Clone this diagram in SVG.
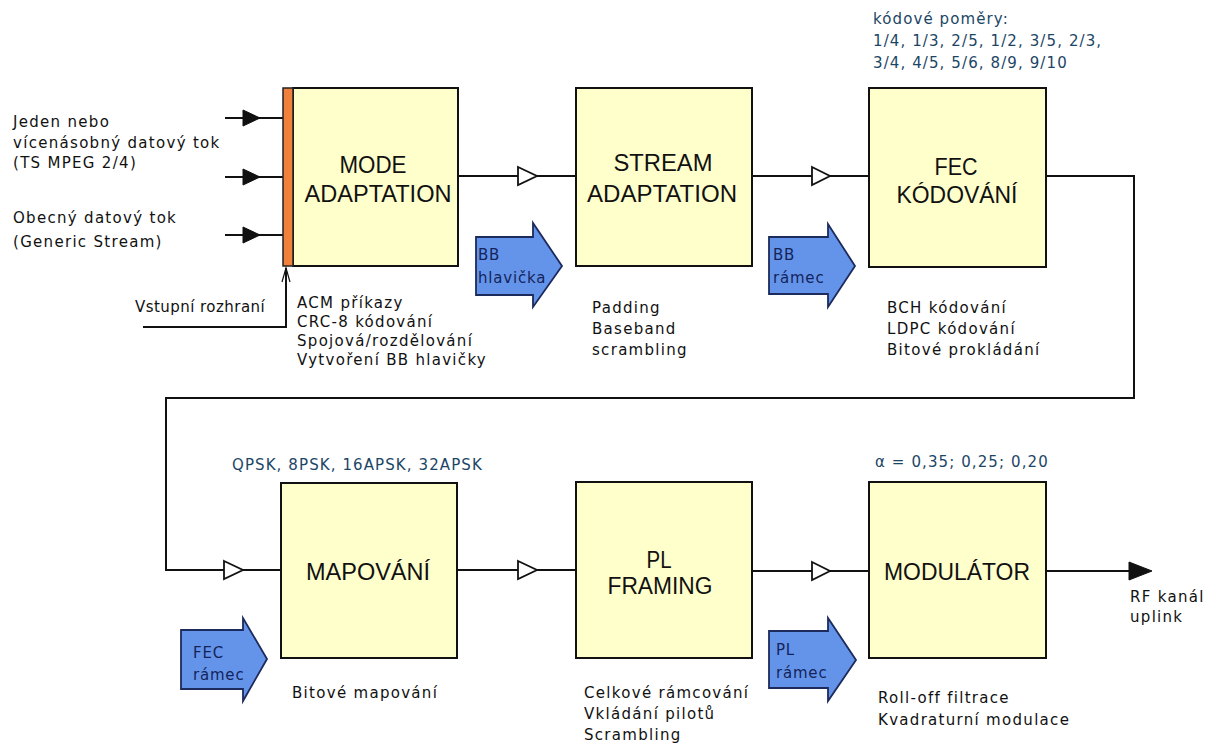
<svg xmlns="http://www.w3.org/2000/svg" width="1218" height="745" viewBox="0 0 1218 745">
<style>
.box{fill:#ffffcc;stroke:#111;stroke-width:2}
.bar{fill:#f0803c;stroke:#222;stroke-width:1.5}
.ttl{font-family:"Liberation Sans",Arial,sans-serif;font-size:23px;fill:#111;text-anchor:middle}
.t{font-family:"DejaVu Sans",Verdana,sans-serif;font-size:15px;fill:#111;letter-spacing:1.3px}
.tb{font-family:"DejaVu Sans",Verdana,sans-serif;font-size:15px;fill:#1c4666;letter-spacing:1.1px}
.ta{font-family:"DejaVu Sans",Verdana,sans-serif;font-size:15px;fill:#14245a;letter-spacing:0.8px}
.ln{fill:none;stroke:#111;stroke-width:2}
.open{fill:#fff;stroke:#111;stroke-width:1.8;stroke-linejoin:miter}
.fill{fill:#111;stroke:#111;stroke-width:1}
.blue{fill:#6494ea;stroke:#1c2a5c;stroke-width:1.8;stroke-linejoin:miter}
</style>
<rect width="1218" height="745" fill="#fff"/>

<g id="connectors">
  <line class="ln" x1="225" y1="118" x2="283" y2="118"/>
  <polygon class="fill" points="243,110 260,118 243,126"/>
  <line class="ln" x1="225" y1="177" x2="283" y2="177"/>
  <polygon class="fill" points="243,169 260,177 243,185"/>
  <line class="ln" x1="225" y1="235" x2="283" y2="235"/>
  <polygon class="fill" points="243,227 260,235 243,243"/>
  <polyline class="ln" points="143,327 286,327 286,268"/>
  <polyline fill="none" stroke="#111" stroke-width="1.2" points="282,282 286,268 290,282"/>

  <line class="ln" x1="458" y1="176" x2="576" y2="176"/>
  <polygon class="open" points="518,167 537,176 518,185"/>
  <line class="ln" x1="752" y1="176" x2="869" y2="176"/>
  <polygon class="open" points="812,167 830,176 812,185"/>
  <polyline class="ln" points="1046,176 1134,176 1134,398 166,398 166,570 281,570"/>
  <polygon class="open" points="224,561 243,570 224,579"/>
  <line class="ln" x1="457" y1="570" x2="576" y2="570"/>
  <polygon class="open" points="518,561 537,570 518,579"/>
  <line class="ln" x1="752" y1="571" x2="869" y2="571"/>
  <polygon class="open" points="812,562 830,571 812,580"/>
  <line class="ln" x1="1046" y1="571" x2="1130" y2="571"/>
  <polygon class="fill" points="1129,562 1152,571 1129,580"/>
</g>

<g id="inputs">
  <text class="t" x="13" y="127">Jeden nebo</text>
  <text class="t" x="13" y="148">vícenásobný datový tok</text>
  <text class="t" x="13" y="168">(TS MPEG 2/4)</text>
  <text class="t" x="13" y="223">Obecný datový tok</text>
  <text class="t" x="13" y="247">(Generic Stream)</text>
  <text class="t" x="135" y="312" textLength="131" lengthAdjust="spacing">Vstupní rozhraní</text>
</g>

<g id="mode-adaptation">
  <rect class="box" x="293" y="88" width="165" height="178"/>
  <rect class="bar" x="283" y="88" width="10" height="178"/>
  <text class="ttl" x="373" y="173" textLength="67" lengthAdjust="spacingAndGlyphs">MODE</text>
  <text class="ttl" x="378" y="202" textLength="147" lengthAdjust="spacingAndGlyphs">ADAPTATION</text>
  <text class="t" x="297" y="308">ACM příkazy</text>
  <text class="t" x="297" y="327">CRC-8 kódování</text>
  <text class="t" x="297" y="346">Spojová/rozdělování</text>
  <text class="t" x="297" y="365">Vytvoření BB hlavičky</text>
</g>

<g id="bb-hlavicka">
  <polygon class="blue" points="476,237 533,237 533,223 562,266 533,307 533,295 476,295"/>
  <text class="ta" x="478" y="260">BB</text>
  <text class="ta" x="478" y="283">hlavička</text>
</g>

<g id="stream-adaptation">
  <rect class="box" x="576" y="88" width="176" height="178"/>
  <text class="ttl" x="663" y="171" textLength="99" lengthAdjust="spacingAndGlyphs">STREAM</text>
  <text class="ttl" x="662" y="202" textLength="150" lengthAdjust="spacingAndGlyphs">ADAPTATION</text>
  <text class="t" x="592" y="313">Padding</text>
  <text class="t" x="592" y="334">Baseband</text>
  <text class="t" x="592" y="355">scrambling</text>
</g>

<g id="bb-ramec">
  <polygon class="blue" points="769,237 828,237 828,224 855,266 828,307 828,294 769,294"/>
  <text class="ta" x="773" y="260">BB</text>
  <text class="ta" x="773" y="283">rámec</text>
</g>

<g id="fec-kodovani">
  <text class="tb" x="873" y="24">kódové poměry:</text>
  <text class="tb" x="873" y="46">1/4, 1/3, 2/5, 1/2, 3/5, 2/3,</text>
  <text class="tb" x="873" y="68">3/4, 4/5, 5/6, 8/9, 9/10</text>
  <rect class="box" x="869" y="88" width="177" height="179"/>
  <text class="ttl" x="956" y="175" textLength="43" lengthAdjust="spacingAndGlyphs">FEC</text>
  <text class="ttl" x="957" y="203" textLength="121" lengthAdjust="spacingAndGlyphs">KÓDOVÁNÍ</text>
  <text class="t" x="887" y="313">BCH kódování</text>
  <text class="t" x="887" y="334">LDPC kódování</text>
  <text class="t" x="887" y="355">Bitové prokládání</text>
</g>

<g id="mapovani">
  <text class="tb" x="232" y="470">QPSK, 8PSK, 16APSK, 32APSK</text>
  <rect class="box" x="281" y="483" width="176" height="175"/>
  <text class="ttl" x="368" y="580" textLength="124" lengthAdjust="spacingAndGlyphs">MAPOVÁNÍ</text>
  <text class="t" x="292" y="698">Bitové mapování</text>
</g>

<g id="fec-ramec">
  <polygon class="blue" points="181,630 243,630 243,618 267,659 243,701 243,689 181,689"/>
  <text class="ta" x="193" y="658">FEC</text>
  <text class="ta" x="193" y="680">rámec</text>
</g>

<g id="pl-framing">
  <rect class="box" x="576" y="482" width="176" height="176"/>
  <text class="ttl" x="659" y="568" textLength="25" lengthAdjust="spacingAndGlyphs">PL</text>
  <text class="ttl" x="660" y="594" textLength="105" lengthAdjust="spacingAndGlyphs">FRAMING</text>
  <text class="t" x="584" y="698">Celkové rámcování</text>
  <text class="t" x="584" y="719">Vkládání pilotů</text>
  <text class="t" x="584" y="740">Scrambling</text>
</g>

<g id="pl-ramec">
  <polygon class="blue" points="769,631 828,631 828,618 856,660 828,701 828,688 769,688"/>
  <text class="ta" x="776" y="655">PL</text>
  <text class="ta" x="776" y="678">rámec</text>
</g>

<g id="modulator">
  <text class="tb" x="875" y="467">α = 0,35; 0,25; 0,20</text>
  <rect class="box" x="869" y="482" width="177" height="176"/>
  <text class="ttl" x="957" y="580" textLength="146" lengthAdjust="spacingAndGlyphs">MODULÁTOR</text>
  <text class="t" x="878" y="703">Roll-off filtrace</text>
  <text class="t" x="878" y="725">Kvadraturní modulace</text>
</g>

<g id="output">
  <text class="t" x="1130" y="602">RF kanál</text>
  <text class="t" x="1130" y="622">uplink</text>
</g>
</svg>
